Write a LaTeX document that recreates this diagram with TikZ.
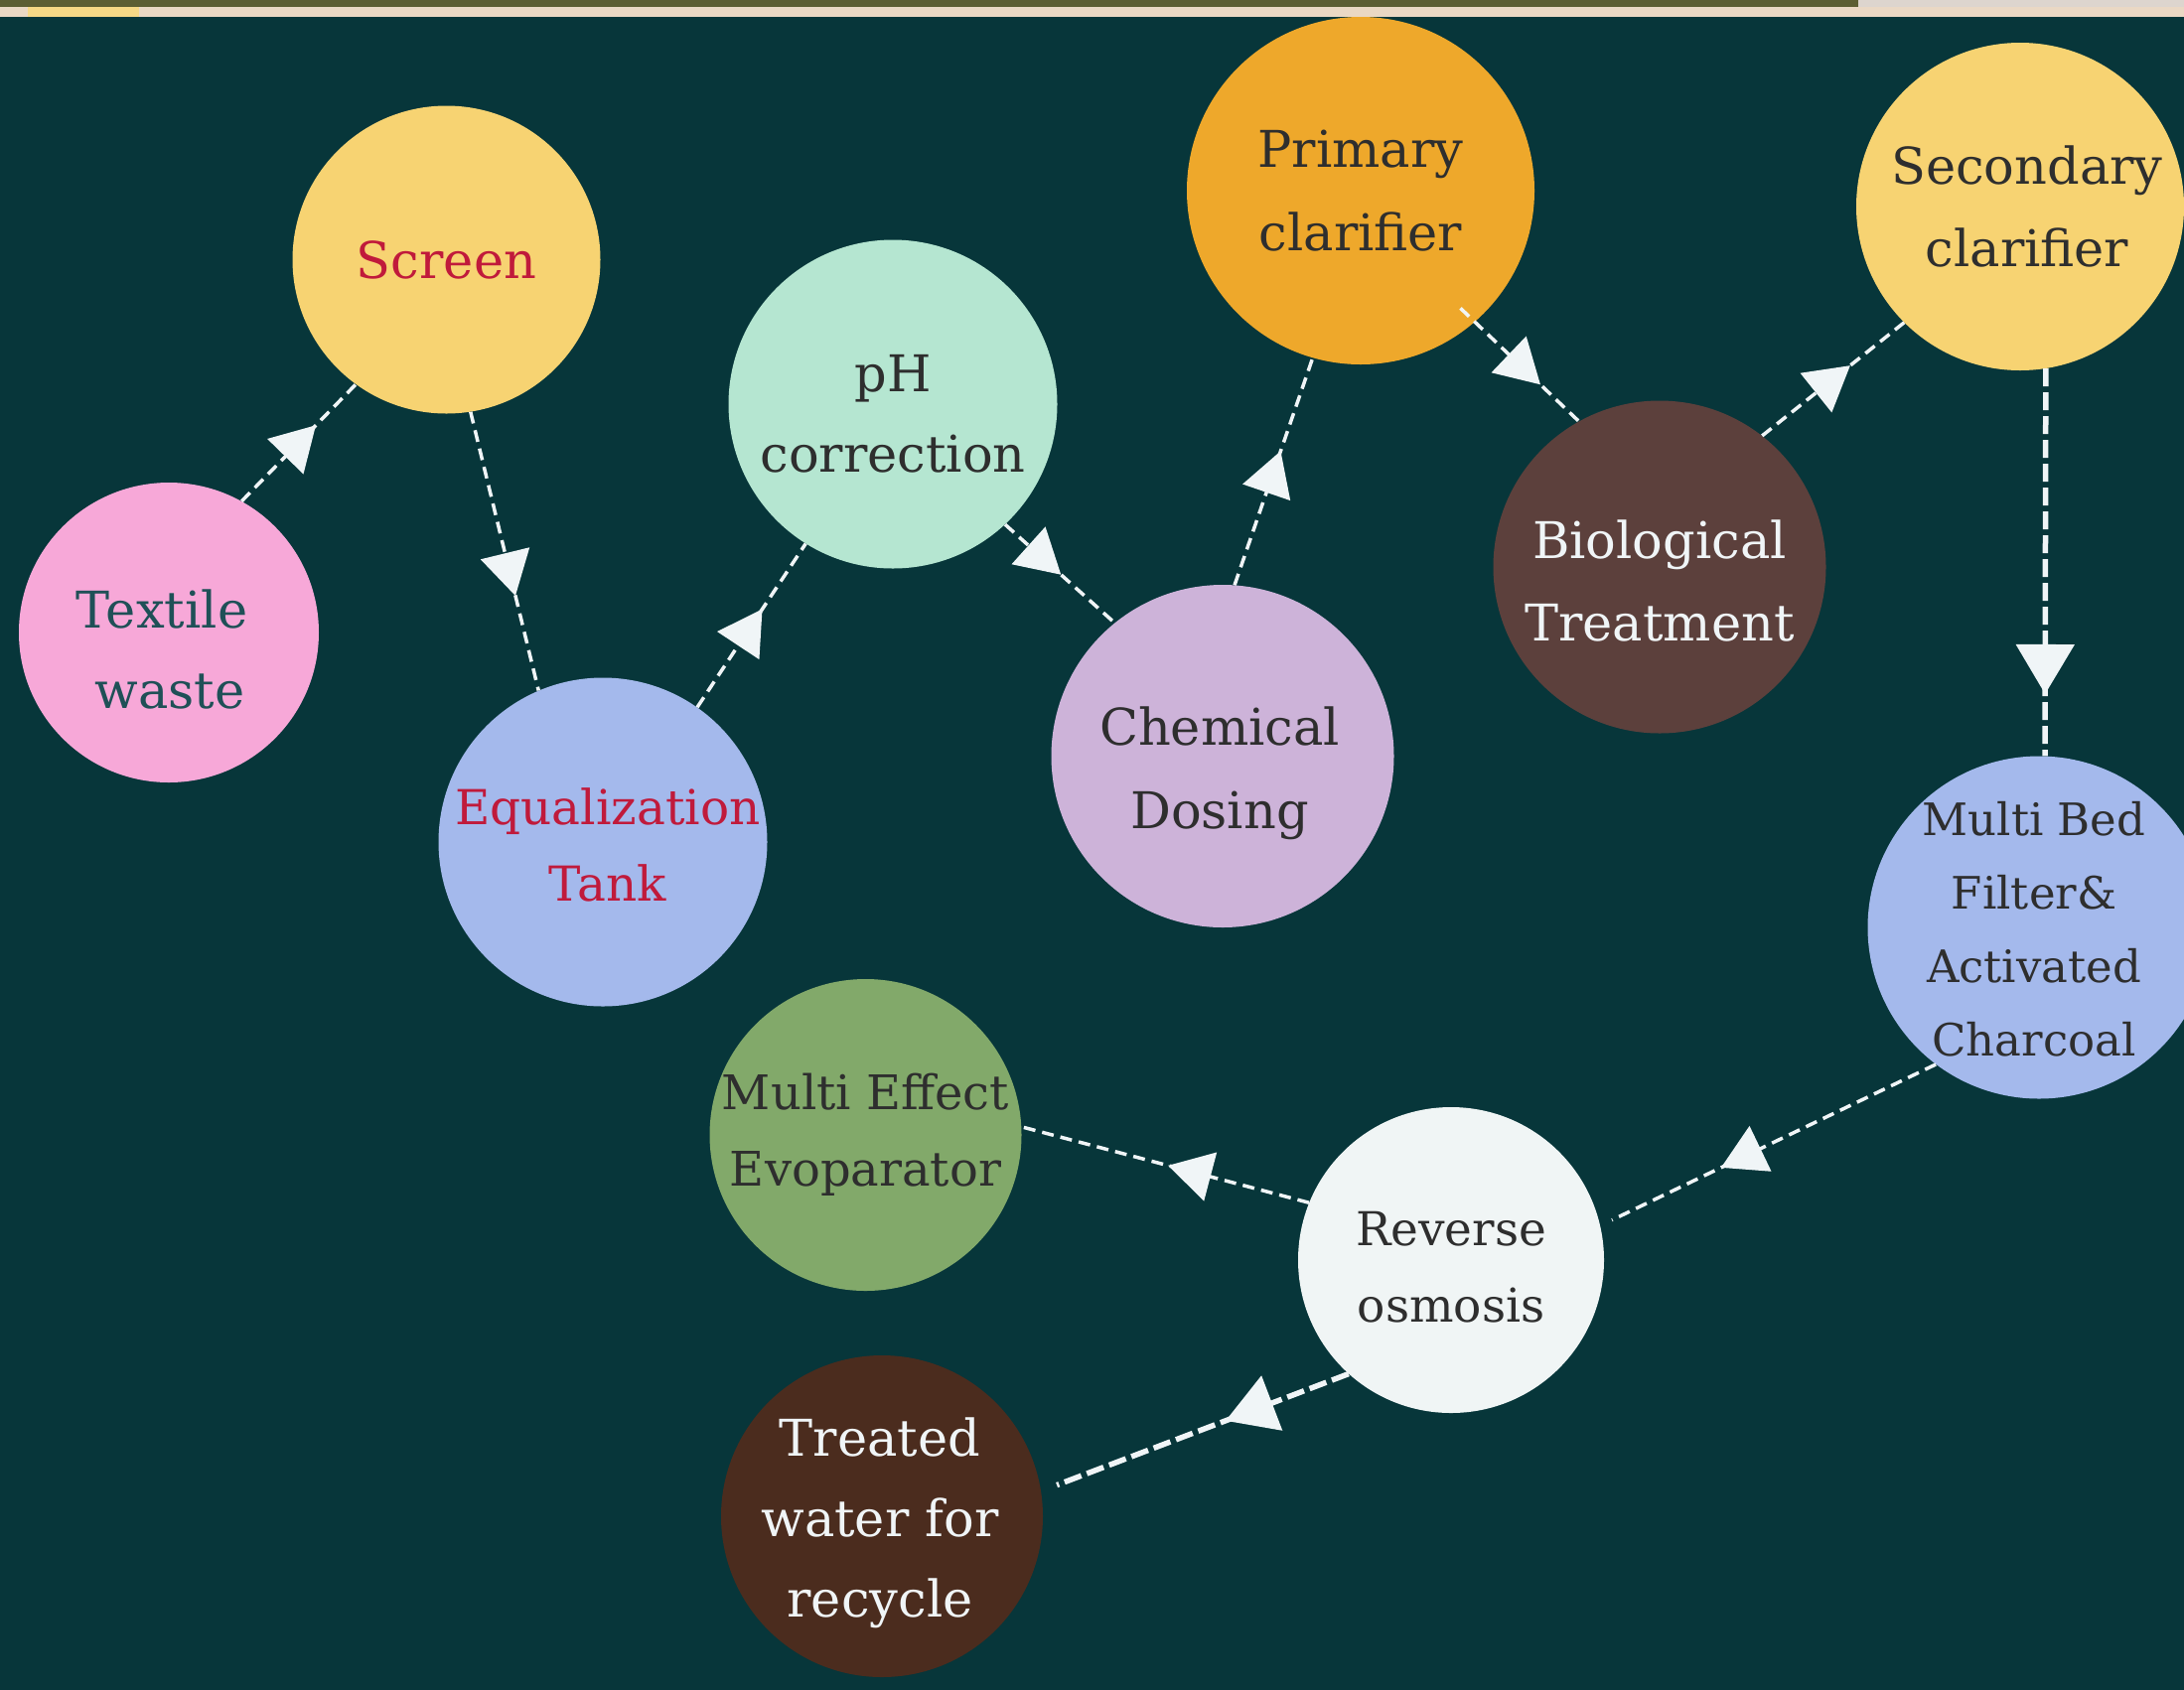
\documentclass[tikz,border=0pt]{standalone}
\usepackage{fontspec}
\setmainfont{DejaVu Serif}
\usetikzlibrary{arrows.meta,decorations.markings}

\definecolor{bg}{HTML}{07363A}
\definecolor{arrowc}{HTML}{F0F5F7}
\definecolor{olivebar}{HTML}{5C5E33}
\definecolor{beigebar}{HTML}{EAD8C4}
\definecolor{graybar}{HTML}{DDD5CE}
\definecolor{yellowbar}{HTML}{F6D886}
\definecolor{cpink}{HTML}{F7A8D8}
\definecolor{cyellow}{HTML}{F7D372}
\definecolor{cblue}{HTML}{A4B9EC}
\definecolor{cmint}{HTML}{B5E6D1}
\definecolor{clilac}{HTML}{CDB3D9}
\definecolor{corange}{HTML}{EEA82B}
\definecolor{cbrown}{HTML}{5C403C}
\definecolor{cwhite}{HTML}{F0F5F5}
\definecolor{cgreen}{HTML}{82A96A}
\definecolor{cdbrown}{HTML}{4B2C1E}
\definecolor{tdark}{HTML}{2E2E2E}
\definecolor{tred}{HTML}{C01A3B}
\definecolor{tteal}{HTML}{1F5057}
\definecolor{twhite}{HTML}{F0F5F7}

\begin{document}
\begin{tikzpicture}[x=1pt,y=-1pt,
  disc/.style={circle,inner sep=0pt,minimum size=#1},
  lbl/.style={align=center,inner sep=0pt},
  fs/.style 2 args={font=\fontsize{#1}{#2}\selectfont},
  flow/.style={draw=arrowc,line width=3.5pt,dash pattern=on 12pt off 7pt,
    postaction={decorate},
    decoration={markings,mark=at position #1 with {\arrow{Triangle[length=44pt,width=50pt]}}}},
  bigflow/.style={draw=arrowc,line width=5.5pt,dash pattern=on 18pt off 6pt,
    postaction={decorate},
    decoration={markings,mark=at position #1 with {\arrow{Triangle[length=50pt,width=58pt]}}}},
]
\path[use as bounding box] (0,0) rectangle (2199,1701);
\fill[bg] (-10,-10) rectangle (2210,1712);
\fill[beigebar] (-10,7) rectangle (2210,17);
\fill[yellowbar] (28,7) rectangle (140,17);
\fill[graybar] (1871,-10) rectangle (2210,7);
\fill[olivebar] (-10,-10) rectangle (1871,7);

% circles
\node[disc=302pt,fill=cpink]   (tex) at (170,637) {};
\node[disc=310pt,fill=cyellow] (scr) at (449.5,261.5) {};
\node[disc=331pt,fill=cblue]   (equ) at (607,848) {};
\node[disc=331pt,fill=cmint]   (ph)  at (899,407) {};
\node[disc=345pt,fill=clilac]  (che) at (1231,761.5) {};
\node[disc=350pt,fill=corange] (pri) at (1370,192) {};
\node[disc=335pt,fill=cbrown]  (bio) at (1671,571) {};
\node[disc=330pt,fill=cyellow] (sec) at (2034,208) {};
\node[disc=345pt,fill=cblue]   (mbf) at (2053,934) {};
\node[disc=308pt,fill=cwhite]  (ro)  at (1461,1269) {};
\node[disc=314pt,fill=cgreen]  (mee) at (871.5,1143) {};
\node[disc=324pt,fill=cdbrown] (trw) at (888,1527) {};

% labels
\node[lbl,fs={51}{81},text=tteal] (texl) at ([shift={(-7,17)}]tex.center) {Textile\\\ waste};
\node[lbl,fs={51}{81},text=tred] (scrl) at (scr.center) {Screen};
\node[lbl,fs={48.5}{77},text=tred] (equl) at ([shift={(5,3)}]equ.center) {Equalization\\Tank};
\node[lbl,fs={51}{81},text=tdark] (phl) at ([shift={(0,10)}]ph.center) {pH\\correction};
\node[lbl,fs={51}{84},text=tdark] (chel) at ([shift={(-3,17)}]che.center) {Chemical\\Dosing};
\node[lbl,fs={51}{84},text=tdark] (pril) at (pri.center) {Primary\\clarifier};
\node[lbl,fs={51}{83},text=twhite] (biol) at ([shift={(0,14)}]bio.center) {Biological\\Treatment};
\node[lbl,fs={51}{83},text=tdark] (secl) at ([shift={(7,0)}]sec.center) {Secondary\\clarifier};
\node[lbl,fs={45}{74},text=tdark] (mbfl) at ([shift={(-5,2)}]mbf.center) {Multi Bed\\Filter\&\\Activated\\Charcoal};
\node[lbl,fs={47}{77},text=tdark] (rol) at ([shift={(0,7)}]ro.center) {Reverse\\osmosis};
\node[lbl,fs={48}{77},text=tdark] (meel) at (mee.center) {Multi Effect\\Evoparator};
\node[lbl,fs={51}{81},text=twhite] (trwl) at ([shift={(-2,7)}]trw.center) {Treated\\water for\\recycle};

% connectors
\draw[flow=0.65] (tex.61) -- (scr.234);
\draw[flow=0.66] (scr.279) -- (equ.113);
\draw[flow=0.60] (equ.55) -- (ph.238);
\draw[flow=0.51] (ph.313) -- (che.129);
\draw[flow=0.59] (che.86) -- (pri.254);
\draw[flow=0.63,shorten <=-20pt] (pri.311) -- (bio.119);
\draw[flow=0.62] (bio.52) -- (sec.225);
\draw[bigflow=0.84] (sec.279) -- (mbf.88);
\draw[flow=0.64,shorten >=13pt] (mbf.233) -- (ro.13);
\draw[flow=0.49] (ro.158) -- (mee.3);
\draw[bigflow=0.40,shorten >=17pt] (ro.228) -- (trw.9);
\end{tikzpicture}
\end{document}
